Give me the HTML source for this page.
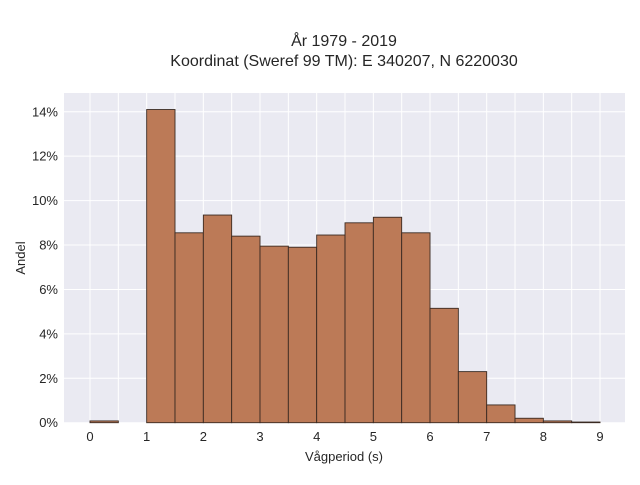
<!DOCTYPE html>
<html><head><meta charset="utf-8"><style>
body{margin:0;background:#fff;font-family:"Liberation Sans",sans-serif;}
svg text{font-family:"Liberation Sans",sans-serif;fill:#262626;}
</style></head><body>
<svg width="640" height="480" viewBox="0 0 640 480">
<text x="344" y="46" font-size="16" text-anchor="middle">År 1979 - 2019</text>
<text x="344" y="66" font-size="16" text-anchor="middle">Koordinat (Sweref 99 TM): E 340207, N 6220030</text>
<rect x="64" y="93" width="561" height="330" fill="#eaeaf2"/>
<g id="grid"></g>
<g id="bars"></g>
<g id="ticks"></g>
<text x="344" y="461" font-size="13" text-anchor="middle">Vågperiod (s)</text>
<text x="25" y="258" font-size="13" text-anchor="middle" transform="rotate(-90 25 258)">Andel</text>
</svg>
<script>
const binStarts=[0,1,1.5,2,2.5,3,3.5,4,4.5,5,5.5,6,6.5,7,7.5,8,8.5];
const shares=[0.08,14.1,8.55,9.35,8.4,7.95,7.9,8.45,9.0,9.25,8.55,5.15,2.3,0.8,0.2,0.08,0.03];
const binWidth=0.5;
const xTicks=[0,1,2,3,4,5,6,7,8,9];
const yTicks=[0,2,4,6,8,10,12,14];
const NS="http://www.w3.org/2000/svg";
const xs=v=>90+v*56.67, ys=v=>422.7-v*22.21;
function mk(t,a,p){const e=document.createElementNS(NS,t);for(const k in a)e.setAttribute(k,a[k]);p.appendChild(e);return e;}
const g=document.getElementById('grid'),b=document.getElementById('bars'),tk=document.getElementById('ticks');
for(let v=0;v<=9;v+=0.5){const l=mk('line',{x1:xs(v),x2:xs(v),y1:93,y2:423,stroke:'#fff','stroke-width':1},g);

}
yTicks.forEach(v=>{const l=mk('line',{x1:64,x2:625,y1:ys(v),y2:ys(v),stroke:'#fff','stroke-width':1},g);


const t=mk('text',{x:58,y:ys(v)+4.5,'font-size':13,'text-anchor':'end'},tk);t.textContent=v+'%';

});
xTicks.forEach(v=>{const t=mk('text',{x:xs(v),y:441,'font-size':13,'text-anchor':'middle'},tk);t.textContent=v;

});
binStarts.forEach((s,i)=>{const r=mk('rect',{x:xs(s),y:ys(shares[i]),width:xs(s+binWidth)-xs(s),height:ys(0)-ys(shares[i]),fill:'#bc7a57',stroke:'#3a2a22','stroke-width':0.9},b);

});
</script>
</body></html>
